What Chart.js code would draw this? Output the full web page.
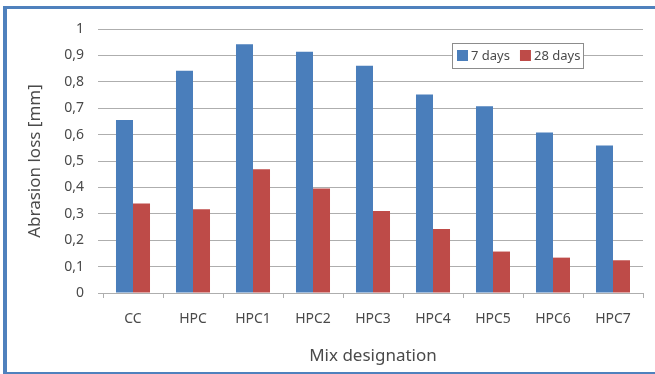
<!DOCTYPE html>
<html>
<head>
<meta charset="utf-8">
<script src="https://cdn.jsdelivr.net/npm/chart.js@4"></script>
<style>
  body { margin: 0; background: #fff; }
  #wrap { position: relative; width: 655px; height: 374px; }
  #myChart { position: absolute; left: 0; top: 0; }
  #frame {
    position: absolute; left: 3px; top: 6px; right: 0; bottom: 0;
    border-left: 4px solid #4f81bd;
    border-top: 3px solid #4f81bd;
    border-bottom: 2px solid #4f81bd;
    pointer-events: none;
  }
</style>
</head>
<body>
<div id="wrap">
  <canvas id="myChart" width="655" height="374"></canvas>
  <div id="frame"></div>
</div>
<script>
// mix designations
const labels = ['CC', 'HPC', 'HPC1', 'HPC2', 'HPC3', 'HPC4', 'HPC5', 'HPC6', 'HPC7'];
// abrasion loss in mm
const days7 = [0.655, 0.842, 0.942, 0.914, 0.861, 0.752, 0.707, 0.608, 0.559];
const days28 = [0.339, 0.317, 0.469, 0.396, 0.311, 0.242, 0.157, 0.134, 0.124];

const BLUE = '#4a7ebb';
const RED = '#be4b48';
const TEXT = '#4a4a4a';
const GRID = '#aeaeae';
const FONT = "'Noto Sans', sans-serif";

const data = {
  labels: labels,
  datasets: [
    { label: '7 days', data: days7, backgroundColor: BLUE },
    { label: '28 days', data: days28, backgroundColor: RED }
  ]
};

// little boxed legend sitting inside the plot, like the excel one
const boxLegend = {
  id: 'boxLegend',
  afterDraw(chart) {
    const ctx = chart.ctx;
    const x0 = 452, y0 = 43, w = 131, h = 25;
    ctx.save();
    ctx.fillStyle = '#fff';
    ctx.fillRect(x0, y0, w, h);
    ctx.strokeStyle = '#8c8c8c';
    ctx.lineWidth = 1;
    ctx.strokeRect(x0 + 0.5, y0 + 0.5, w, h);
    ctx.font = '13px ' + FONT;
    ctx.textBaseline = 'middle';
    let x = x0 + 5;
    chart.data.datasets.forEach(function(ds) {
      ctx.fillStyle = ds.backgroundColor;
      ctx.fillRect(x, y0 + 7, 11, 11);
      ctx.fillStyle = TEXT;
      ctx.fillText(ds.label, x + 14, y0 + 13);
      x += 14 + ctx.measureText(ds.label).width + 10;
    });
    ctx.restore();
  }
};

const config = {
  type: 'bar',
  data: data,
  plugins: [boxLegend],
  options: {
    responsive: false,
    animation: false,
    layout: { padding: { left: 21, right: 12, top: 29, bottom: 4 } },
    datasets: {
      bar: { categoryPercentage: 0.567, barPercentage: 1 }
    },
    plugins: {
      legend: { display: false },
      tooltip: { enabled: false }
    },
    scales: {
      x: {
        afterFit: function(scale) { scale.height = 77; },
        grid: { offset: true, drawOnChartArea: false, tickLength: 5, color: GRID },
        border: { display: true, color: GRID },
        ticks: { color: TEXT, font: { family: FONT, size: 14 }, padding: 13 },
        title: { display: true, text: 'Mix designation', color: TEXT, font: { family: FONT, size: 17 } }
      },
      y: {
        min: 0,
        max: 1,
        afterFit: function(scale) { scale.width = 82; },
        grid: { color: GRID, tickLength: 5 },
        border: { display: false },
        ticks: {
          stepSize: 0.1,
          color: TEXT,
          padding: 14,
          font: { family: FONT, size: 14 },
          callback: function(v) { return String(Number(v.toFixed(1))).replace('.', ','); }
        },
        title: { display: true, text: 'Abrasion loss [mm]', color: TEXT, font: { family: FONT, size: 17 } }
      }
    }
  }
};

const myChart = new Chart(document.getElementById('myChart'), config);
</script>
</body>
</html>
